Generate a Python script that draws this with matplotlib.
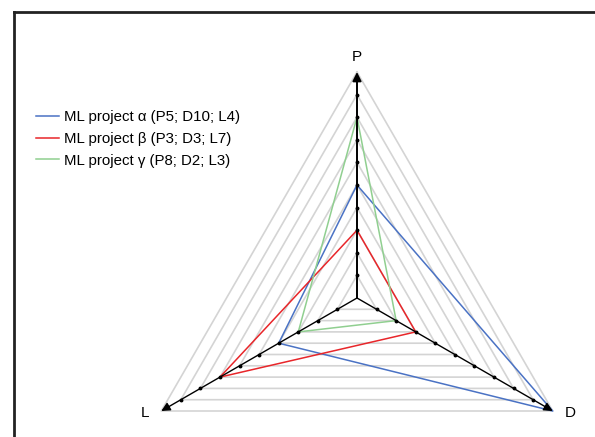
import numpy as np
import matplotlib
matplotlib.use('Agg')
import matplotlib.pyplot as plt
from matplotlib.lines import Line2D

plt.rcParams['font.family'] = ['Liberation Sans', 'DejaVu Sans']

axis_names  = ['P', 'D', 'L']
angles_deg  = [90, -30, 210]
n_levels    = 10
projects    = ['ML project α (P5; D10; L4)', 'ML project β (P3; D3; L7)', 'ML project γ (P8; D2; L3)']
p_vals      = [5, 3, 8]
d_vals      = [10, 3, 2]
l_vals      = [4, 7, 3]
colors      = ['#4a72c4', '#e8262a', '#90cf90']

ang = np.deg2rad(angles_deg)
ux, uy = np.cos(ang), np.sin(ang)

fig = plt.figure(figsize=(5.95, 4.37), dpi=100)
ax = fig.add_axes([0, 0, 1, 1])
ax.set_xlim(-357 / 22.6, (595 - 357) / 22.6)
ax.set_ylim(-(437 - 298) / 22.6, 298 / 22.6)
ax.axis('off')

# nested grey triangles
for k in range(1, n_levels + 1):
    xs = np.append(ux * k, ux[0] * k)
    ys = np.append(uy * k, uy[0] * k)
    ax.plot(xs, ys, c='#d4d4d4', lw=1.2, zorder=1)

# axes with arrow heads and tick dots
lev = np.arange(1, n_levels + 1)
for i, name in enumerate(axis_names):
    ax.annotate('', xy=(ux[i] * n_levels, uy[i] * n_levels), xytext=(0, 0),
                arrowprops=dict(arrowstyle='-|>', color='black', lw=1.4 if i == 0 else 1.0,
                                mutation_scale=13, shrinkA=0, shrinkB=0), zorder=3)
    ax.plot(ux[i] * lev[:-1], uy[i] * lev[:-1], 'o', c='black', ms=1.8, zorder=4)

ax.text(0, 10.65, 'P', ha='center', va='center', fontsize=11)
ax.text(ux[1] * 10 + 0.78, uy[1] * 10 - 0.1, 'D', ha='center', va='center', fontsize=11)
ax.text(ux[2] * 10 - 0.72, uy[2] * 10 - 0.1, 'L', ha='center', va='center', fontsize=11)

# projects
for i in range(len(projects)):
    r = np.array([p_vals[i], d_vals[i], l_vals[i], p_vals[i]])
    xs = r * np.append(ux, ux[0])
    ys = r * np.append(uy, uy[0])
    ax.plot(xs, ys, c=colors[i], lw=1.1, label=projects[i], zorder=2)

ax.legend(loc='upper left', bbox_to_anchor=(31 / 595, 1 - 106 / 437), frameon=False,
          fontsize=10.8, handlelength=1.55, handletextpad=0.35, labelspacing=0.5,
          borderaxespad=0, borderpad=0.3)

# frame cut by the image edge
fig.add_artist(Line2D([14 / 595, 14 / 595], [0, 1 - 12 / 437], transform=fig.transFigure, c='#222222', lw=2))
fig.add_artist(Line2D([14 / 595, 1], [1 - 12 / 437, 1 - 12 / 437], transform=fig.transFigure, c='#222222', lw=2))

plt.savefig('out.png', dpi=100)
